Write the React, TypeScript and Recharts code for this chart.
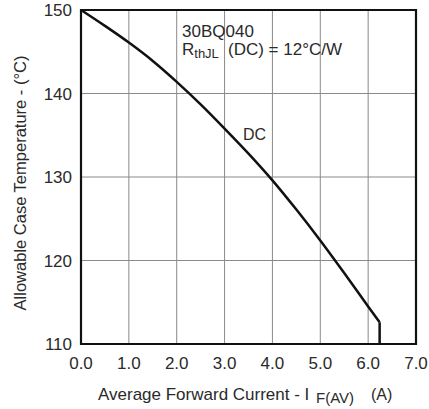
import React from 'react';
import { LineChart, Line, XAxis, YAxis, CartesianGrid, ReferenceArea, Customized } from 'recharts';

const current = [0, 0.5, 1.0, 1.5, 2.0, 2.5, 3.0, 3.5, 4.0, 4.5, 5.0, 5.5, 6.0, 6.24];
const temperature = [150, 148.1, 146.1, 143.9, 141.4, 138.7, 135.8, 132.8, 129.6, 126.1, 122.4, 118.5, 114.5, 112.6];
const dropCurrent = [6.24, 6.24];
const dropTemperature = [112.6, 110];
const xTicks = [0, 1, 2, 3, 4, 5, 6, 7];
const yTicks = [110, 120, 130, 140, 150];

const curveData = current.map((c, i) => ({ i: c, t: temperature[i] }));
const dropData = dropCurrent.map((c, i) => ({ i: c, t: dropTemperature[i] }));

const FONT = '"Liberation Sans", Arial, Helvetica, sans-serif';
const TXT = '#2a2a2a';

const Annotations = () => (
  <g fontFamily={FONT} fill={TXT}>
    <text x={182} y={37} fontSize={17}>30BQ040</text>
    <text x={182} y={55} fontSize={17}>
      R<tspan fontSize={13} dy={3}>thJL</tspan>
      <tspan x={228} dy={-3}>(DC) = 12°C/W</tspan>
    </text>
    <text x={243} y={140} fontSize={16}>DC</text>
    <text x={98} y={400} fontSize={17}>
      Average Forward Current - I
      <tspan x={316} dy={3} fontSize={15}>F(AV)</tspan>
      <tspan x={371} dy={-3} fontSize={16}>(A)</tspan>
    </text>
    <text transform="rotate(-90)" x={-183} y={26} fontSize={16.5} textAnchor="middle">
      Allowable Case Temperature - (°C)
    </text>
  </g>
);

export default function App() {
  return (
    <div style={{ position: 'absolute', left: 0, top: 0, width: 429, height: 409, background: '#fff' }}>
      <LineChart width={429} height={409} margin={{ top: 10, right: 13, bottom: 0, left: 0 }}>
        <CartesianGrid stroke="#8a8a8a" strokeWidth={1} verticalValues={xTicks} horizontalValues={yTicks} />
        <XAxis
          dataKey="i"
          type="number"
          domain={[0, 7]}
          ticks={xTicks}
          tickFormatter={(v: number) => v.toFixed(1)}
          height={65}
          axisLine={false}
          tickLine={false}
          tickSize={6}
          tickMargin={7}
          tick={{ fill: TXT, fontSize: 17, fontFamily: FONT }}
          interval={0}
          allowDuplicatedCategory={false}
        />
        <YAxis
          type="number"
          domain={[110, 150]}
          ticks={yTicks}
          width={81}
          axisLine={false}
          tickLine={false}
          tickSize={6}
          tickMargin={3}
          tick={{ fill: TXT, fontSize: 17, fontFamily: FONT }}
          interval={0}
        />
        <ReferenceArea x1={0} x2={7} y1={110} y2={150} fill="none" fillOpacity={0} stroke="#111" strokeWidth={2.2} />
        <Line
          data={curveData}
          dataKey="t"
          type="monotone"
          stroke="#111"
          strokeWidth={2.5}
          dot={false}
          isAnimationActive={false}
        />
        <Line
          data={dropData}
          dataKey="t"
          type="linear"
          stroke="#111"
          strokeWidth={2.5}
          dot={false}
          isAnimationActive={false}
        />
        <Customized component={<Annotations />} />
      </LineChart>
    </div>
  );
}
